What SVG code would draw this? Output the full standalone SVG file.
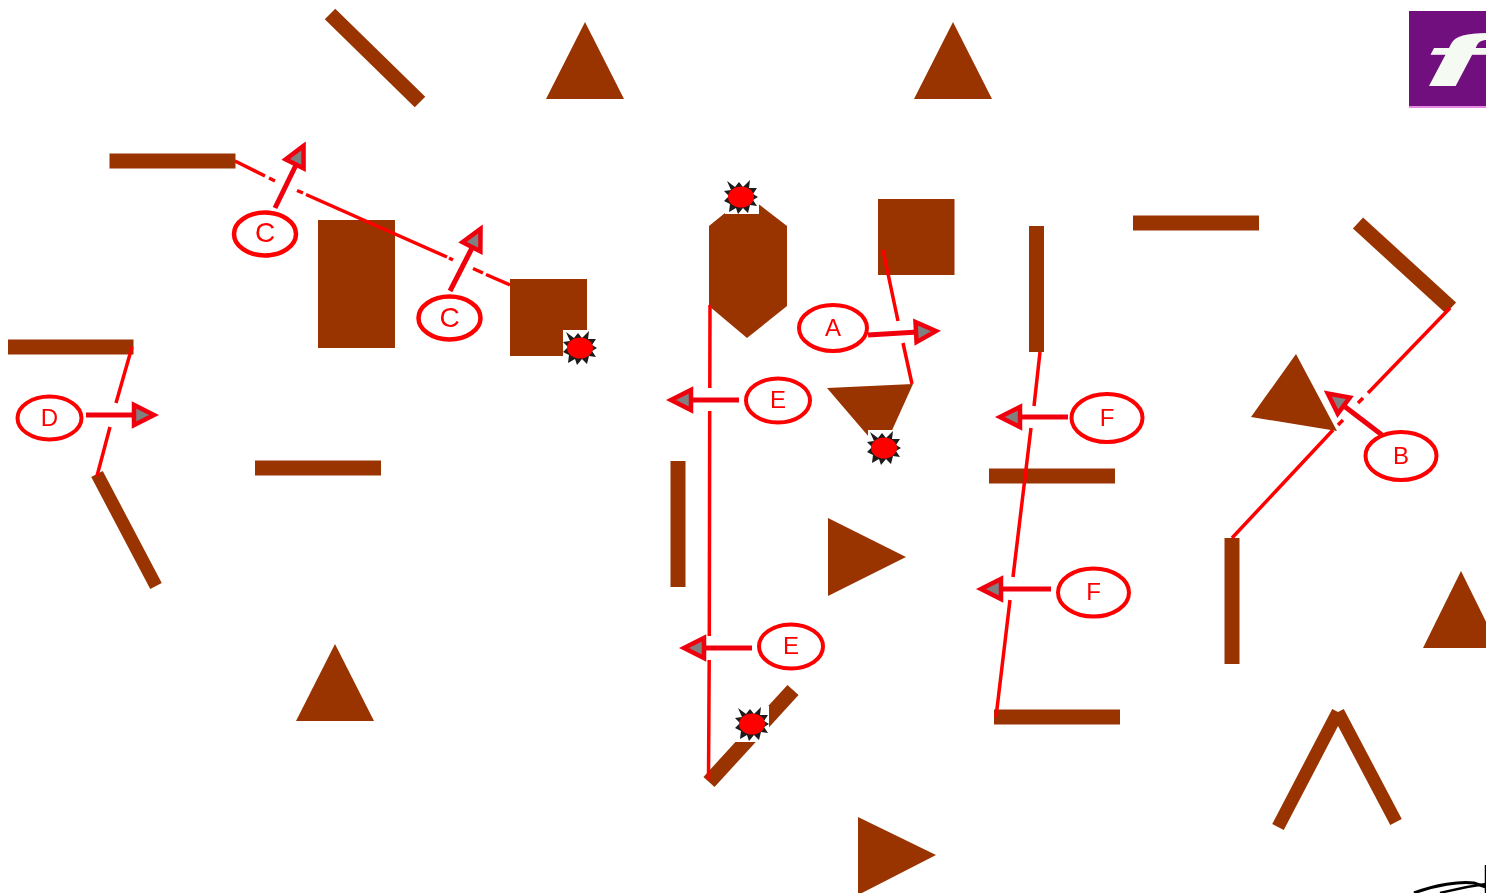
<svg xmlns="http://www.w3.org/2000/svg" xmlns:xlink="http://www.w3.org/1999/xlink" width="1486" height="893" viewBox="0 0 1486 893">
<style>
.b{fill:none;stroke:#993300;stroke-width:15}
.s{fill:#993300}
.r{fill:none;stroke:#ff0000;stroke-width:3.500}
.h{fill:none;stroke:#ffffff;stroke-width:24}
.sh{fill:none;stroke:#f00010;stroke-width:5}
.ah{fill:#808080;stroke:#f00010;stroke-width:4.500;stroke-linejoin:miter}
.e{fill:#ffffff;stroke:#ff0000;stroke-width:4}
.t{font-family:"Liberation Sans",Arial,sans-serif;font-size:24px;fill:#ff0000;text-anchor:middle}
.w{fill:#ffffff}
</style>
<defs>
<filter id="soft" x="-10%" y="-10%" width="120%" height="120%"><feGaussianBlur stdDeviation="0.6"/></filter>
<g id="burst" filter="url(#soft)">
<polygon points="-14,-16 -6,-10 -2,-15 2,-10 9,-17 8,-9 16,-9 12,-3 17,0 12,3 16,9 9,8 7,16 2,11 -3,17 -5,11 -12,15 -11,7 -17,4 -12,-1 -17,-6 -10,-7" fill="#1a1a1a"/>
<ellipse cx="0" cy="0" rx="13" ry="10.500" fill="#ff0000"/>
</g>
<polygon id="head" class="ah" points="-1,0 -21,-10 -21,10"/>
</defs>
<g id="shapes">
<line id="bar1" class="b" x1="330" y1="14" x2="420" y2="102"/>
<line id="bar2" class="b" x1="109.500" y1="161" x2="235.500" y2="161"/>
<line id="bar3" class="b" x1="8" y1="347" x2="133.500" y2="347"/>
<line id="bar4" class="b" x1="255" y1="468" x2="381" y2="468"/>
<line id="bar5" class="b" x1="97" y1="474" x2="156" y2="586" style="stroke-width:13"/>
<line id="bar6" class="b" x1="1133" y1="223" x2="1259" y2="223"/>
<line id="bar7" class="b" x1="1036.500" y1="226" x2="1036.500" y2="352"/>
<line id="bar8" class="b" x1="989" y1="476" x2="1115" y2="476"/>
<line id="bar9" class="b" x1="994" y1="717" x2="1120" y2="717"/>
<line id="bar10" class="b" x1="678" y1="461" x2="678" y2="587"/>
<line id="bar11" class="b" x1="1232" y1="538" x2="1232" y2="664"/>
<line id="bar12" class="b" x1="1358" y1="223" x2="1451" y2="308"/>
<g id="chevron"><line class="b" style="stroke-width:13" x1="1278" y1="827" x2="1338" y2="712"/><line class="b" style="stroke-width:13" x1="1338" y1="712" x2="1396" y2="822"/></g>
<line id="bar13" class="b" x1="709" y1="782" x2="793" y2="690"/>
<polygon id="tri1" class="s" points="585,22 546,99 624,99"/>
<polygon id="tri2" class="s" points="953,22 914,99 992,99"/>
<polygon id="tri3" class="s" points="335,644 296,721 374,721"/>
<polygon id="tri4" class="s" points="1461,571 1423,648 1499,648"/>
<polygon id="tri5" class="s" points="828,518 828,596 906,557"/>
<polygon id="tri6" class="s" points="858,817 858,895 936,855"/>
<polygon id="tri7" class="s" points="1296,354 1251,417 1337,431"/>
<polygon id="trap" class="s" points="827,388 913,384 889,437 869,437"/>
<rect id="rect1" class="s" x="318" y="220" width="77" height="128"/>
<rect id="rect2" class="s" x="510" y="279" width="77" height="77"/>
<rect id="rect3" class="s" x="878" y="199" width="76.500" height="76"/>
<polygon id="hex" class="s" points="709,226 747,195 787,226 787,306 747,338 709,306"/>
</g>
<g id="connectors">
<g id="halos">
<line class="h" x1="275" y1="208" x2="303" y2="150"/>
<line class="h" x1="450" y1="291" x2="480" y2="232"/>
<line class="h" x1="868" y1="335" x2="938" y2="331"/>
<line class="h" x1="86" y1="415" x2="156" y2="415"/>
<line class="h" x1="739" y1="400" x2="669" y2="400"/>
<line class="h" x1="752" y1="648" x2="682" y2="648"/>
<line class="h" x1="1068" y1="417" x2="998" y2="417"/>
<line class="h" x1="1051" y1="589" x2="980" y2="589"/>
<line class="h" x1="1382" y1="435" x2="1330" y2="396" style="stroke-width:20"/>
</g>
<path class="r" d="M235,161 L265,176 M269,178 L275,181 M297,190.500 L303,193 M306,194.500 L447,257 M449,258 L453,260 M473,268.500 L483,273 M486,274.500 L510,285"/>
<path class="r" d="M132,347 L116,403 M110,427 L97,476"/>
<path class="r" d="M710,305 L709.800,388 M709.700,411 L709.300,636 M709.200,660 L708.500,780"/>
<path class="r" d="M883,250 L898,321 M903,343 L912,384"/>
<path class="r" d="M1040,352 L1034,406 M1031,428 L1013,577 M1010,600 L996,717"/>
<path class="r" d="M1450,308 L1368,393 M1363,398 L1358,403 M1343,420 L1338,425 M1333,430 L1232,538"/>
<g id="arrows" filter="url(#soft)">
<line class="sh" x1="275" y1="208" x2="296" y2="165"/>
<use xlink:href="#head" href="#head" transform="translate(304,145) rotate(-63.500)"/>
<line class="sh" x1="450" y1="291" x2="472" y2="248"/>
<use xlink:href="#head" href="#head" transform="translate(481,228) rotate(-63)"/>
<line class="sh" x1="868" y1="335" x2="918" y2="332"/>
<use xlink:href="#head" href="#head" transform="translate(937,331) rotate(-3)"/>
<line class="sh" x1="86" y1="415" x2="136" y2="415"/>
<use xlink:href="#head" href="#head" transform="translate(155,415)"/>
<line class="sh" x1="739" y1="400" x2="689" y2="400"/>
<use xlink:href="#head" href="#head" transform="translate(670,400) rotate(180)"/>
<line class="sh" x1="752" y1="648" x2="702" y2="648"/>
<use xlink:href="#head" href="#head" transform="translate(683,648) rotate(180)"/>
<line class="sh" x1="1068" y1="417" x2="1018" y2="417"/>
<use xlink:href="#head" href="#head" transform="translate(999,417) rotate(180)"/>
<line class="sh" x1="1051" y1="589" x2="1000" y2="589"/>
<use xlink:href="#head" href="#head" transform="translate(980,589) rotate(180)"/>
<line class="sh" x1="1382" y1="435" x2="1344" y2="406"/>
<use xlink:href="#head" href="#head" transform="translate(1327,393) rotate(217)"/>
</g>
</g>
<g id="burst1"><rect class="w" x="725" y="190" width="34" height="24"/><use xlink:href="#burst" href="#burst" transform="translate(741,197)"/></g>
<g id="burst2"><rect class="w" x="563" y="330" width="30" height="30"/><use xlink:href="#burst" href="#burst" transform="translate(580,348)"/></g>
<g id="burst3"><rect class="w" x="868" y="430" width="32" height="32"/><use xlink:href="#burst" href="#burst" transform="translate(884,448)"/></g>
<g id="burst4"><polygon class="w" points="735,742 769,742 769,706 735,706"/><use xlink:href="#burst" href="#burst" transform="translate(752,724)"/></g>
<g id="node-a"><ellipse class="e" cx="833" cy="328" rx="34" ry="23"/><text class="t" x="833" y="336">A</text></g>
<g id="node-c1"><ellipse class="e" cx="265" cy="234" rx="31" ry="21.500" style="stroke-width:4.500"/><text class="t" x="265" y="242" style="font-size:28px">C</text></g>
<g id="node-c2"><ellipse class="e" cx="449.500" cy="318" rx="31" ry="21.500" style="stroke-width:4.500"/><text class="t" x="449.500" y="327" style="font-size:28px">C</text></g>
<g id="node-d"><ellipse class="e" cx="49.500" cy="418" rx="32" ry="21.500"/><text class="t" x="49.500" y="426">D</text></g>
<g id="node-e1"><ellipse class="e" cx="778" cy="400.500" rx="32" ry="22"/><text class="t" x="778" y="408">E</text></g>
<g id="node-e2"><ellipse class="e" cx="791" cy="646.500" rx="32" ry="22"/><text class="t" x="791" y="654">E</text></g>
<g id="node-f1"><ellipse class="e" cx="1107" cy="418" rx="35.500" ry="24"/><text class="t" x="1107" y="426">F</text></g>
<g id="node-f2"><ellipse class="e" cx="1093.500" cy="592.500" rx="35.500" ry="24"/><text class="t" x="1093.500" y="600">F</text></g>
<g id="node-b"><ellipse class="e" cx="1401" cy="456" rx="35.500" ry="24"/><text class="t" x="1401" y="464">B</text></g>
<g id="logo">
<rect x="1409" y="11" width="77" height="97" fill="#e58be5"/>
<rect x="1409" y="11" width="77" height="95" fill="#700f7d"/>
<text transform="translate(1422,86) scale(2.7,1)" x="0" y="0" style="font-family:'Liberation Sans',Arial,sans-serif;font-size:72px;font-weight:bold;font-style:italic;fill:#f5fbf3">f</text>
</g>
<g id="scribble" fill="none" stroke="#000000">
<path d="M1414,893 C1435,885 1460,881 1474,883 L1486,887" stroke-width="3"/>
<path d="M1440,893 C1455,889 1470,886 1486,884" stroke-width="2.500"/>
<line x1="1485.500" y1="865" x2="1485.500" y2="893" stroke-width="1.500"/>
</g>
</svg>
